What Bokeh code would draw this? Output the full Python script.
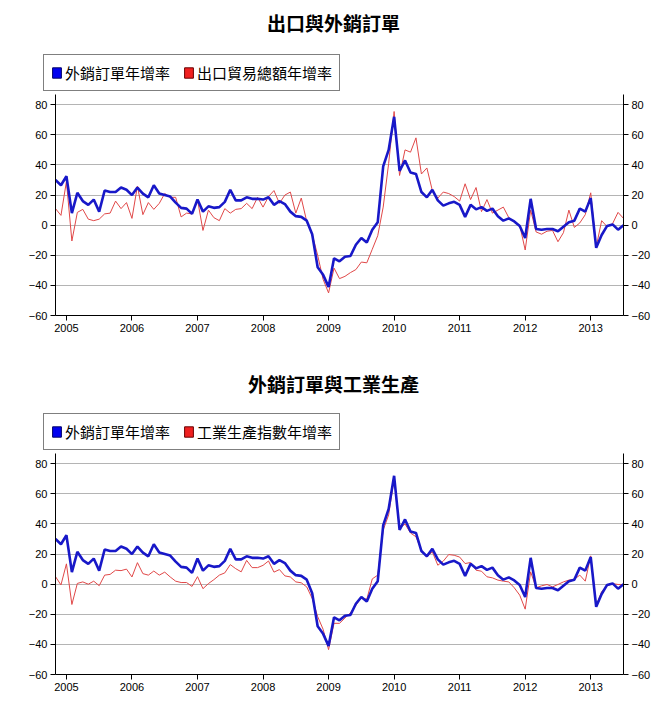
import pandas as pd
from bokeh.plotting import figure
from bokeh.models import Range1d, LinearAxis, FixedTicker, Legend, LegendItem, Label
from bokeh.layouts import column
from bokeh.embed import file_html
from bokeh.resources import INLINE

# ---- data (monthly, Nov 2004 .. Jul 2013) ----
start_month = "2004-11"

orders_yoy = [30, 26.5, 32.5, 8, 21.5, 16, 13.5, 17, 9, 23,
              22, 22, 25, 23.5, 20, 25, 21, 18.5, 26.5, 21,
              20, 19, 15, 11.5, 11, 7.5, 17, 9, 12.5, 11.5,
              12, 15.5, 23.5, 16.5, 16.5, 18.5, 17.5, 17.5, 17, 18.5,
              13.5, 16, 14, 9, 6, 5.5, 3, -6, -28, -33,
              -41, -22, -24, -21, -20.5, -13, -8.5, -11.5, -3, 2,
              39, 50, 72, 36, 43, 35, 34, 22, 18.5, 23.5,
              16.5, 13, 14.5, 15.5, 13.5, 5.5, 13.5, 10.5, 12, 9.5,
              11, 6, 3, 4.5, 2.5, -0.5, -8.5, 17.5, -2.5, -3,
              -2.5, -2.5, -4, -1, 2, 3, 11, 9, 18, -15,
              -6.5, -0.5, 0.5, -3, 0]

exports_yoy = [11, 6.5, 29, -10.5, 8.5, 10.5, 4, 3, 4, 7.5,
               8, 16, 11, 15, 4.5, 26, 7, 15, 10.5, 14.5,
               21, 18.5, 18.5, 5.5, 8, 7.5, 17, -3.5, 10, 5,
               3, 11, 8, 10.5, 11, 14.5, 11, 18.5, 12, 19,
               23, 14.5, 20, 22, 8, 18, 2.5, -6, -20, -36,
               -45, -28.5, -35.5, -34, -31.5, -29.5, -24.5, -25, -16, -7,
               12, 41, 75.5, 33, 50, 48.5, 58, 34, 38, 23,
               18, 22, 21, 19, 16, 27.5, 17, 25, 9, 17,
               8, 10, 12, 5, 2, 0, -16.5, 10, -4.5, -6,
               -4, -3.5, -11, -5, 10, -1.5, 1.5, 7, 21.5, -14.5,
               3, -1, 1, 8.5, 4.5]

ip_yoy = [5, -0.5, 13.5, -13.5, 0.5, 1.5, 0, 2, -1, 6,
          6.5, 9.3, 9, 10, 4.8, 14.3, 7, 6, 8.7, 6,
          8, 4.8, 2, 1.1, 1.1, -1.5, 5, -3, 0.4, 3,
          6, 7.5, 13, 10.3, 8.2, 15.8, 11, 11, 12.5, 15.4,
          8, 9.7, 5.5, 4.8, 1.5, 0.9, -1.8, -9.5, -21.5, -30,
          -43.5, -26, -26, -22.5, -19, -14, -9, -10, 3.5, 6,
          36, 46, 70, 37, 40, 34, 31.5, 22.5, 18, 21.5,
          12.6, 15.3, 19.7, 19.2, 18, 13.7, 14.4, 9.3, 8.6, 4.9,
          4.2, 2.7, 2, 1.5, -2.4, -7.3, -16.6, 8.2, -2.4, -1.1,
          -0.2, -1.8, -0.2, 1.5, 2.7, 3.3, 6, 2, 18.8, -14,
          -5, -1.1, 0.4, -0.2, -0.2]

year_ticks = list(range(2005, 2014))
y_ticks = list(range(-60, 81, 20))

titles = ["出口與外銷訂單", "外銷訂單與工業生產"]
blue_label = "外銷訂單年增率"
red_labels = ["出口貿易總額年增率", "工業生產指數年增率"]

months = pd.period_range(start_month, periods=len(orders_yoy), freq="M")
xs = [m.year + (m.month - 1) / 12 for m in months]

CJK = "Noto Sans CJK TC"
NUM = "Liberation Sans"
BLUE = "#1818c8"
RED = "#e04848"


def style_axis(ax):
    ax.axis_line_color = "black"
    ax.axis_line_width = 1
    ax.major_tick_line_color = "black"
    ax.major_tick_out = 5
    ax.major_tick_in = 0
    ax.minor_tick_line_color = None
    ax.major_label_text_font = NUM
    ax.major_label_text_font_size = "11px"
    ax.major_label_text_color = "black"
    ax.major_label_standoff = 3


def header(title, red_label, h, title_y):
    hd = figure(width=656, height=h, x_range=Range1d(0, 656), y_range=Range1d(0, h),
                toolbar_location=None, output_backend="svg", min_border=0,
                x_axis_location=None, y_axis_location=None, frame_align=False,
                outline_line_color=None, background_fill_color="white",
                border_fill_color="white")
    hd.xgrid.visible = False
    hd.ygrid.visible = False
    # invisible swatch renderers (legend keys only)
    rb = hd.quad(left=[0], right=[0], top=[0], bottom=[0], visible=False,
                 fill_color="#0000f0", line_color="#00006a")
    rr = hd.quad(left=[0], right=[0], top=[0], bottom=[0], visible=False,
                 fill_color="#f02020", line_color="#6a0000")
    legend = Legend(items=[LegendItem(label=blue_label, renderers=[rb]),
                           LegendItem(label=red_label, renderers=[rr])],
                    location=(43, 3), orientation="horizontal",
                    border_line_color="black", border_line_width=1,
                    background_fill_color="white", background_fill_alpha=1,
                    label_text_font=CJK, label_text_font_size="15px",
                    label_text_color="black",
                    glyph_width=11, glyph_height=13, label_standoff=3,
                    spacing=13, padding=7, margin=0)
    hd.add_layout(legend)
    hd.add_layout(Label(x=333, y=h - title_y, x_units="screen", y_units="screen",
                        text=title, text_align="center", text_baseline="middle",
                        text_font=CJK, text_font_size="19px",
                        text_font_style="bold", text_color="black"))
    return hd


def chart(red_vals, bottom_border):
    p = figure(width=656, height=221 + bottom_border,
               x_range=Range1d(xs[0], xs[-1]), y_range=Range1d(-60, 86.8),
               toolbar_location=None, output_backend="svg",
               min_border_left=55, min_border_right=33,
               min_border_top=0, min_border_bottom=bottom_border,
               outline_line_color=None, background_fill_color="white",
               border_fill_color="white")
    p.xaxis.ticker = FixedTicker(ticks=year_ticks)
    p.yaxis.ticker = FixedTicker(ticks=y_ticks)
    right = LinearAxis(ticker=FixedTicker(ticks=y_ticks))
    p.add_layout(right, "right")
    for ax in [p.xaxis[0], p.yaxis[0], right]:
        style_axis(ax)
    p.xgrid.visible = False
    p.ygrid.grid_line_color = "#b4b4b4"
    p.ygrid.grid_line_width = 1
    p.line(xs, red_vals, line_color=RED, line_width=1)
    p.line(xs, orders_yoy, line_color=BLUE, line_width=2.6)
    return p


h1 = header(titles[0], red_labels[0], 94, 22)
c1 = chart(exports_yoy, 41)
h2 = header(titles[1], red_labels[1], 97, 27)
c2 = chart(ip_yoy, 38)
layout = column(h1, c1, h2, c2, spacing=0)

open("out.html", "w").write(file_html(layout, INLINE))
